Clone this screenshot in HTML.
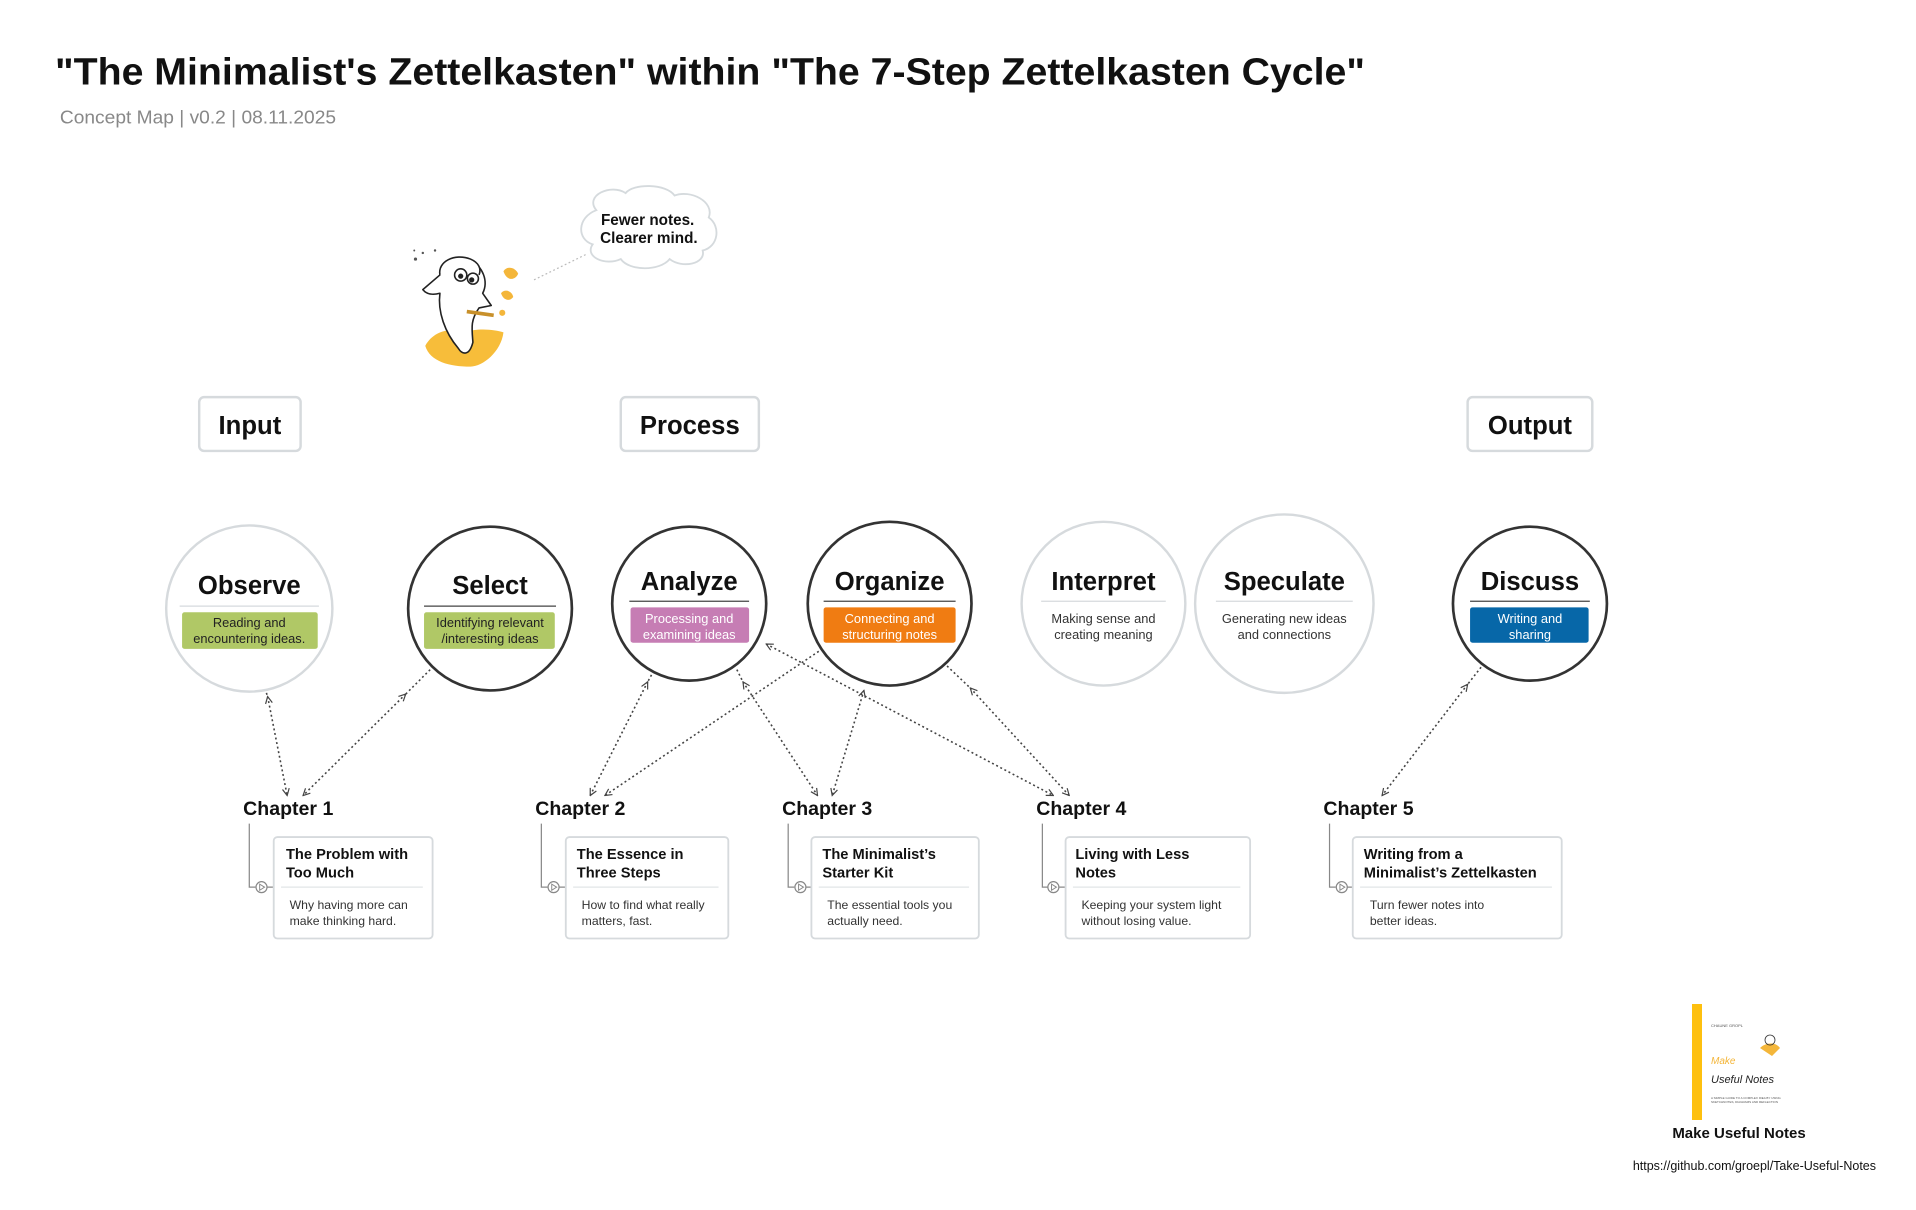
<!DOCTYPE html>
<html><head><meta charset="utf-8"><style>
html,body{margin:0;padding:0;background:#fff;}
svg{display:block;font-family:"Liberation Sans",Arial,sans-serif;}
</style></head><body>
<svg width="1916" height="1210" viewBox="0 0 1916 1210" xmlns="http://www.w3.org/2000/svg">
<defs>
<marker id="ah" viewBox="0 0 10 10" refX="9" refY="5" markerWidth="7" markerHeight="7" orient="auto-start-reverse" markerUnits="userSpaceOnUse">
<path d="M1,1 L9,5 L1,9" fill="none" stroke="#444" stroke-width="1.4"/>
</marker>
</defs>
<rect width="1916" height="1210" fill="#fff"/>
<g transform="scale(1.222)">
<text x="45" y="69" font-size="31" font-weight="bold" fill="#111" textLength="1072" lengthAdjust="spacingAndGlyphs">"The Minimalist's Zettelkasten" within "The 7-Step Zettelkasten Cycle"</text>
<text x="49" y="101" font-size="15" fill="#888" textLength="226" lengthAdjust="spacingAndGlyphs">Concept Map | v0.2 | 08.11.2025</text>

<g fill="#fff" stroke="#d5dadd" stroke-width="1.5">
<path d="M488,172 C478,160 500,150 512,158 C518,150 545,150 552,160 C565,155 585,165 580,178 C590,185 588,202 575,205 C578,216 558,220 548,212 C540,222 515,222 508,212 C495,218 478,210 485,200 C472,196 472,178 488,172 Z"/>
</g>
<text x="530" y="184" font-size="12.5" font-weight="bold" fill="#111" text-anchor="middle">Fewer notes.</text>
<text x="531" y="199" font-size="12.5" font-weight="bold" fill="#111" text-anchor="middle">Clearer mind.</text>
<line x1="437" y1="229" x2="480" y2="208" stroke="#bbb" stroke-width="1" stroke-dasharray="1.5,2"/>

<g stroke="#222" stroke-width="1.3" stroke-linejoin="round">
<path d="M348,283 C355,270 370,268 380,272 C392,268 405,270 412,272 C410,288 395,300 385,300 C368,300 352,296 348,283 Z" fill="#f7bd3a" stroke="none"/>
<path d="M360,240 C358,255 364,272 375,285 C378,290 384,292 387,280 C386,268 385,262 392,252 L402,250 L395,240 C400,230 395,218 385,213 C372,208 360,214 360,225 L346,237 C350,242 356,241 360,240 Z" fill="#fff"/>
<path d="M360,225 C358,214 372,207 385,212 C392,215 394,220 392,225" fill="#fff"/>
<circle cx="377" cy="225" r="5" fill="#fff"/><circle cx="387" cy="228" r="4.5" fill="#fff"/>
<circle cx="377" cy="226" r="1.5" fill="#222"/><circle cx="386" cy="229" r="1.5" fill="#222"/>
<path d="M382,255 L404,258" stroke="#c8902a" stroke-width="3"/>
</g>
<g fill="#f4b63a"><path d="M412,222 c3,-5 10,-3 12,2 c-2,5 -9,7 -12,-2z"/><path d="M410,240 c3,-4 9,-2 10,3 c-3,4 -8,3 -10,-3z"/><circle cx="411" cy="256" r="2.5"/></g>
<g fill="#555"><circle cx="340" cy="212" r="1.3"/><circle cx="346" cy="207" r="1"/><circle cx="356" cy="205" r="1"/><circle cx="339" cy="205" r="0.8"/></g>

<g fill="#fff" stroke="#d6dadd" stroke-width="2">
<rect x="163" y="325" width="83" height="44" rx="4"/>
<rect x="508" y="325" width="113" height="44" rx="4"/>
<rect x="1201" y="325" width="102" height="44" rx="4"/>
</g>
<g font-size="21" font-weight="bold" fill="#111" text-anchor="middle">
<text x="204.5" y="355">Input</text>
<text x="564.5" y="355">Process</text>
<text x="1252" y="355">Output</text>
</g>

<g stroke="#444" stroke-width="1.3" stroke-dasharray="1.6,2.2" fill="none" marker-start="url(#ah)" marker-end="url(#ah)">
<line x1="219" y1="570" x2="235" y2="651"/>
<line x1="332" y1="568" x2="248" y2="651"/>
<line x1="530" y1="558" x2="483" y2="651"/>
<line x1="670" y1="533" x2="495" y2="651" marker-start="none"/>
<line x1="608" y1="558" x2="669" y2="651"/>
<line x1="707" y1="565" x2="681" y2="651"/>
<line x1="627" y1="527" x2="862" y2="651"/>
<line x1="794" y1="563" x2="875" y2="651"/>
<line x1="1201" y1="560" x2="1131" y2="651"/>
</g>
<g stroke="#444" stroke-width="1.3" stroke-dasharray="1.6,2.2">
<line x1="352" y1="548" x2="332" y2="568"/>
<line x1="218" y1="567" x2="219" y2="570"/>
<line x1="535" y1="549" x2="530" y2="558"/>
<line x1="603" y1="548" x2="608" y2="558"/>
<line x1="1212" y1="546" x2="1201" y2="560"/>
<line x1="775" y1="545" x2="794" y2="563"/>
</g>

<g fill="#fff">
<circle cx="204" cy="498" r="68" stroke="#d6dadd" stroke-width="2"/>
<circle cx="401" cy="498" r="67" stroke="#333" stroke-width="2.2"/>
<circle cx="564" cy="494" r="63" stroke="#333" stroke-width="2.2"/>
<circle cx="728" cy="494" r="67" stroke="#333" stroke-width="2.2"/>
<circle cx="903" cy="494" r="67" stroke="#d6dadd" stroke-width="2"/>
<circle cx="1051" cy="494" r="73" stroke="#d6dadd" stroke-width="2"/>
<circle cx="1252" cy="494" r="63" stroke="#333" stroke-width="2.2"/>
</g>
<g font-size="21" font-weight="bold" fill="#111" text-anchor="middle">
<text x="204" y="486">Observe</text>
<text x="401" y="486">Select</text>
<text x="564" y="483">Analyze</text>
<text x="728" y="483">Organize</text>
<text x="903" y="483">Interpret</text>
<text x="1051" y="483">Speculate</text>
<text x="1252" y="483">Discuss</text>
</g>
<g stroke-width="1">
<line x1="147" y1="496" x2="261" y2="496" stroke="#d6dadd"/>
<line x1="347" y1="496" x2="455" y2="496" stroke="#444"/>
<line x1="515" y1="492" x2="613" y2="492" stroke="#444"/>
<line x1="674" y1="492" x2="782" y2="492" stroke="#444"/>
<line x1="852" y1="492" x2="954" y2="492" stroke="#d6dadd"/>
<line x1="995" y1="492" x2="1107" y2="492" stroke="#d6dadd"/>
<line x1="1203" y1="492" x2="1301" y2="492" stroke="#444"/>
</g>
<rect x="149" y="501" width="111" height="30" rx="2" fill="#b0c866"/>
<rect x="347" y="501" width="107" height="30" rx="2" fill="#b0c866"/>
<rect x="516" y="497" width="97" height="29" rx="2" fill="#c67db4"/>
<rect x="674" y="497" width="108" height="29" rx="2" fill="#f07c12"/>
<rect x="1203" y="497" width="97" height="29" rx="2" fill="#0767a8"/>
<g font-size="10.5" text-anchor="middle">
<text x="204" y="513" fill="#222">Reading and</text>
<text x="204" y="526" fill="#222">encountering ideas.</text>
<text x="401" y="513" fill="#222">Identifying relevant</text>
<text x="401" y="526" fill="#222">/interesting ideas</text>
<text x="564" y="510" fill="#fff">Processing and</text>
<text x="564" y="523" fill="#fff">examining ideas</text>
<text x="728" y="510" fill="#fff">Connecting and</text>
<text x="728" y="523" fill="#fff">structuring notes</text>
<text x="903" y="510" fill="#333">Making sense and</text>
<text x="903" y="523" fill="#333">creating meaning</text>
<text x="1051" y="510" fill="#333">Generating new ideas</text>
<text x="1051" y="523" fill="#333">and connections</text>
<text x="1252" y="510" fill="#fff">Writing and</text>
<text x="1252" y="523" fill="#fff">sharing</text>
</g>

<g font-size="16" font-weight="bold" fill="#111">
<text x="199" y="667">Chapter 1</text>
<text x="438" y="667">Chapter 2</text>
<text x="640" y="667">Chapter 3</text>
<text x="848" y="667">Chapter 4</text>
<text x="1083" y="667">Chapter 5</text>
</g>
<g stroke="#888" stroke-width="1" fill="#fff">
<path d="M204,674 V726 H209 M218,726 H224"/><circle cx="214" cy="726" r="4.5"/>
<path d="M443,674 V726 H448 M457,726 H463"/><circle cx="453" cy="726" r="4.5"/>
<path d="M645,674 V726 H650 M659,726 H664"/><circle cx="655" cy="726" r="4.5"/>
<path d="M853,674 V726 H858 M867,726 H872"/><circle cx="862" cy="726" r="4.5"/>
<path d="M1088,674 V726 H1093 M1102,726 H1107"/><circle cx="1098" cy="726" r="4.5"/>
</g>
<g fill="none" stroke="#888" stroke-width="0.8">
<path d="M212.5,723.5 L216.5,726 L212.5,728.5 Z"/>
<path d="M451.5,723.5 L455.5,726 L451.5,728.5 Z"/>
<path d="M653.5,723.5 L657.5,726 L653.5,728.5 Z"/>
<path d="M860.5,723.5 L864.5,726 L860.5,728.5 Z"/>
<path d="M1096.5,723.5 L1100.5,726 L1096.5,728.5 Z"/>
</g>
<g fill="#fff" stroke="#d6dadd" stroke-width="1.5">
<rect x="224" y="685" width="130" height="83" rx="3"/>
<rect x="463" y="685" width="133" height="83" rx="3"/>
<rect x="664" y="685" width="137" height="83" rx="3"/>
<rect x="872" y="685" width="151" height="83" rx="3"/>
<rect x="1107" y="685" width="171" height="83" rx="3"/>
</g>
<g stroke="#e2e5e7" stroke-width="1">
<line x1="230" y1="726" x2="346" y2="726"/>
<line x1="469" y1="726" x2="588" y2="726"/>
<line x1="670" y1="726" x2="793" y2="726"/>
<line x1="878" y1="726" x2="1015" y2="726"/>
<line x1="1113" y1="726" x2="1270" y2="726"/>
</g>
<g font-size="12" font-weight="bold" fill="#111">
<text x="234" y="703">The Problem with</text><text x="234" y="718">Too Much</text>
<text x="472" y="703">The Essence in</text><text x="472" y="718">Three Steps</text>
<text x="673" y="703">The Minimalist’s</text><text x="673" y="718">Starter Kit</text>
<text x="880" y="703">Living with Less</text><text x="880" y="718">Notes</text>
<text x="1116" y="703">Writing from a</text><text x="1116" y="718">Minimalist’s Zettelkasten</text>
</g>
<g font-size="10" fill="#333">
<text x="237" y="744">Why having more can</text><text x="237" y="757">make thinking hard.</text>
<text x="476" y="744">How to find what really</text><text x="476" y="757">matters, fast.</text>
<text x="677" y="744">The essential tools you</text><text x="677" y="757">actually need.</text>
<text x="885" y="744">Keeping your system light</text><text x="885" y="757">without losing value.</text>
<text x="1121" y="744">Turn fewer notes into</text><text x="1121" y="757">better ideas.</text>
</g>
</g>

<rect x="1692" y="1004" width="116" height="116" fill="#fff"/>
<rect x="1692" y="1004" width="10" height="116" fill="#fec00f"/>
<text x="1711" y="1027" font-size="4" fill="#555">CHAUNE GROPL</text>
<text x="1711" y="1064" font-size="10" fill="#f4b63a" font-style="italic">Make</text>
<text x="1711" y="1083" font-size="11" fill="#222" font-style="italic">Useful Notes</text>
<text x="1711" y="1099" font-size="3" fill="#555">A SIMPLE GUIDE TO A COMPLEX IDEA BY USING</text>
<text x="1711" y="1103" font-size="3" fill="#555">SKETCHNOTES, DIAGRAMS AND REFLECTION</text>
<path d="M1760,1048 c6,-6 16,-6 20,0 l-8,8 z" fill="#f4b63a"/>
<circle cx="1770" cy="1040" r="5" fill="none" stroke="#333" stroke-width="0.8"/>
<text x="1739" y="1138" font-size="15" font-weight="bold" fill="#111" text-anchor="middle">Make Useful Notes</text>
<text x="1876" y="1170" font-size="12.5" fill="#111" text-anchor="end">https://github.com/groepl/Take-Useful-Notes</text>
</svg>
</body></html>
